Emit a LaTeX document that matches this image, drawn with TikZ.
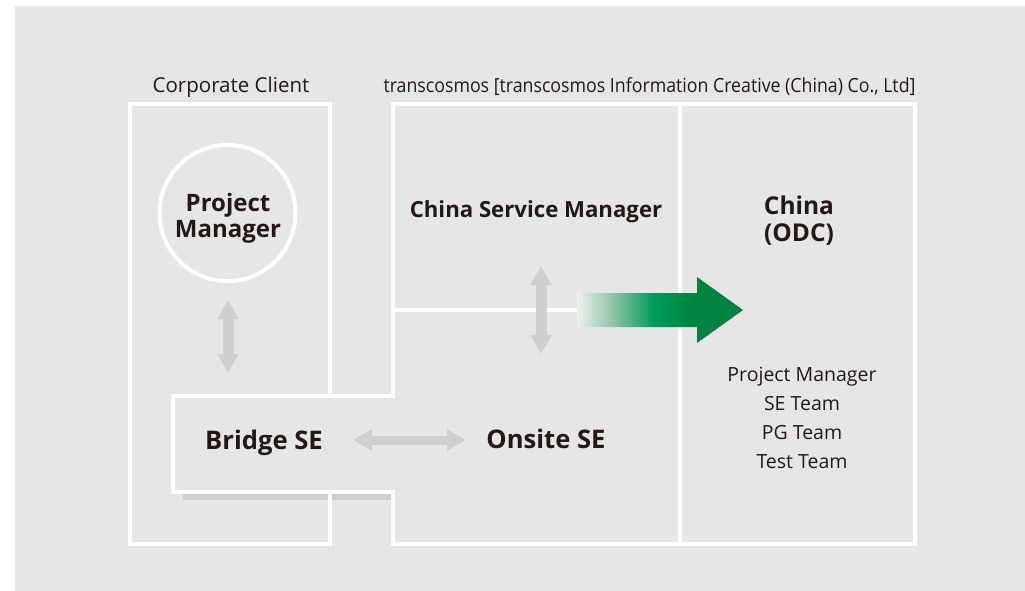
\documentclass[tikz,border=0pt]{standalone}
\usepackage{fontspec}
\setmainfont{Open Sans}
\usepackage{tikz}
\usetikzlibrary{arrows.meta,positioning,calc}

\definecolor{panelgray}{HTML}{E6E6E6}
\definecolor{arrowgray}{HTML}{CFCFCF}
\definecolor{inkblack}{HTML}{231815}
\definecolor{odcgreen}{HTML}{00843F}
\definecolor{odcgreenlight}{HTML}{009A5A}
\definecolor{odcfadeout}{HTML}{EEF0EE}

% fade-in of the offshore arrow (25bp..75bp spans the path)
\pgfdeclarehorizontalshading{odcfade}{100bp}{color(0bp)=(odcfadeout); color(25bp)=(odcfadeout);
  color(37bp)=(odcgreen!45!odcfadeout); color(48bp)=(odcgreenlight); color(60bp)=(odcgreen); color(100bp)=(odcgreen)}

\begin{document}
\begin{tikzpicture}[x=1pt,y=-1pt,
    wall/.style={draw=white,line width=4pt},
    lbl/.style={text=inkblack,inner sep=0pt,anchor=base,font=\fontsize{20.5}{24}\selectfont},
    head/.style={text=inkblack,inner sep=0pt,align=center,font=\fontsize{24.5}{27}\selectfont\bfseries},
    team/.style={text=inkblack,inner sep=0pt,anchor=base,font=\fontsize{19.5}{24}\selectfont},
    link/.style={draw=arrowgray,line width=11pt,{Triangle[width=20pt,length=19pt]}-{Triangle[width=20pt,length=19pt]}}]

    \useasboundingbox (0,0) rectangle (1025,591);
    \fill[panelgray] (15,6) rectangle (1025,591);

    % shadow under the bridge box
    \fill[arrowgray] (183,493.5) rectangle (391,500);

    % frames
    \draw[wall] (330,395.5) -- (330,104) -- (130,104) -- (130,544) -- (330,544) -- (330,491.5);
    \draw[wall] (393,491.5) -- (172.5,491.5) -- (172.5,395.5) -- (393,395.5) -- (393,104)
        -- (915,104) -- (915,544) -- (393,544) -- cycle;
    \draw[wall] (680,104) -- (680,544);
    \draw[wall] (393,310) -- (680,310);

    % headings
    \node[lbl] (client) at (231,92.5) {Corporate Client};
    \node[lbl,font=\fontsize{19.5}{24}\selectfont\addfontfeature{FakeStretch=0.91}] (tci) at (649.5,92.5)
        {transcosmos [transcosmos Information Creative (China) Co., Ltd]};

    % roles
    \node[circle,draw=white,line width=4pt,minimum size=136pt] (pm) at (227.5,213) {};
    \node[head,font=\fontsize{24}{26}\selectfont\bfseries] (pmlabel) at (228,218) {Project\\Manager};
    \node[head,anchor=base,font=\fontsize{22.2}{27}\selectfont\bfseries] (csm) at (536,217) {China Service Manager};
    \node[head,anchor=base,font=\fontsize{25.6}{27}\selectfont\bfseries] (bridge) at (264,449) {Bridge SE};
    \node[head,anchor=base,font=\fontsize{25.6}{27}\selectfont\bfseries] (onsite) at (546,448) {Onsite SE};
    \node[head] (odc) at (799,221) {China\\(ODC)};
    \foreach \t [count=\i] in {Project Manager, SE Team, PG Team, Test Team}
        \node[team] (team\i) at (802,{381.7+28.9*(\i-1)}) {\t};

    % links between the roles
    \coordinate (pmlow) at (228,300);
    \coordinate (bridgeup) at (228,373);
    \coordinate (csmlow) at (541,266);
    \coordinate (onsiteup) at (541,354);
    \coordinate (bridgeright) at (353,440);
    \coordinate (onsiteleft) at (466,440);
    \draw[link] (pmlow) -- (bridgeup);
    \draw[link] (csmlow) -- (onsiteup);
    \draw[link,line width=9pt] (bridgeright) -- (onsiteleft);

    % offshore arrow
    \shade[shading=odcfade] (577,293) -- (697,293) -- (697,277) -- (743,310)
        -- (697,343) -- (697,327) -- (577,327) -- cycle;
\end{tikzpicture}
\end{document}
